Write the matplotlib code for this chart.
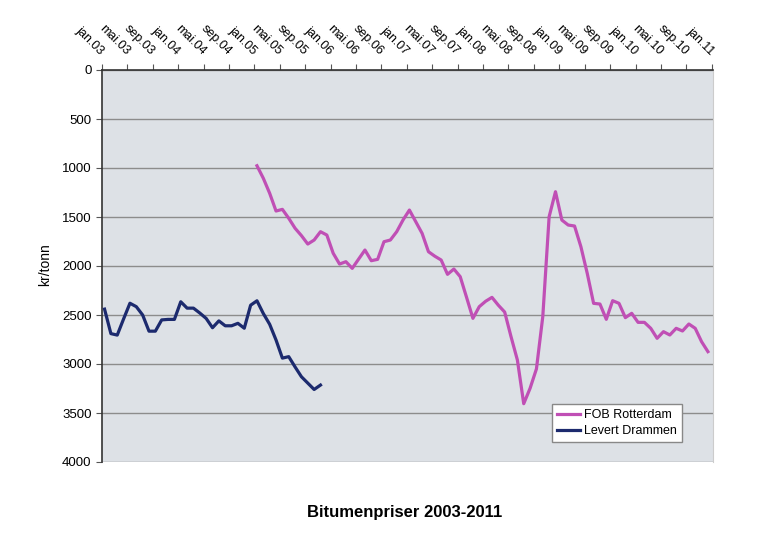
import matplotlib
matplotlib.use("Agg")
import matplotlib.pyplot as plt
import numpy as np

plt.rcParams['font.family'] = ['Liberation Sans', 'DejaVu Sans']

# Month index 0 = jan.03
tick_labels = ["jan.03", "mai.03", "sep.03", "jan.04", "mai.04", "sep.04",
               "jan.05", "mai.05", "sep.05", "jan.06", "mai.06", "sep.06",
               "jan.07", "mai.07", "sep.07", "jan.08", "mai.08", "sep.08",
               "jan.09", "mai.09", "sep.09", "jan.10", "mai.10", "sep.10",
               "jan.11"]

drammen_start = 0
drammen = [2440, 2690, 2705, 2540, 2380, 2415, 2500, 2665, 2665, 2550,
           2545, 2545, 2365, 2430, 2430, 2480, 2535, 2630, 2560, 2610,
           2610, 2585, 2635, 2400, 2355, 2485, 2595, 2755, 2940, 2925,
           3030, 3130, 3195, 3260, 3215]

rotterdam_start = 24
rotterdam = [977, 1105, 1258, 1439, 1422, 1513, 1615, 1690, 1776, 1735,
             1650, 1684, 1870, 1980, 1956, 2024, 1930, 1837, 1946, 1932,
             1752, 1735, 1650, 1530, 1429, 1548, 1667, 1854, 1900, 1939,
             2085, 2031, 2109, 2320, 2534, 2415, 2360, 2320, 2400, 2470,
             2721, 2959, 3405, 3248, 3050, 2517, 1497, 1242, 1531, 1582,
             1592, 1803, 2075, 2381, 2388, 2544, 2354, 2381, 2527, 2483,
             2575, 2575, 2636, 2738, 2670, 2704, 2636, 2663, 2592, 2636,
             2772, 2874]

fig = plt.figure(figsize=(7.78, 5.52), dpi=100)
ax = fig.add_axes([102/778, 1-462/552, 611/778, 392/552])
ax.set_facecolor('#dde1e6')

off = 0.4
xd = np.arange(len(drammen)) + drammen_start + off
xr = np.arange(len(rotterdam)) + rotterdam_start + off

ax.plot(xr, rotterdam, color='#c04fb5', lw=2.3, label='FOB Rotterdam', zorder=3)
ax.plot(xd, drammen, color='#1c2a6e', lw=2.3, label='Levert Drammen', zorder=3)

ax.set_xlim(0, 96.2)
ax.set_ylim(4000, 0)
ax.set_yticks(np.arange(0, 4001, 500))
ax.yaxis.grid(True, color='#8c8c8c', lw=1.0)
ax.set_axisbelow(True)

ax.xaxis.tick_top()
ax.set_xticks(np.arange(0, 97, 4))
ax.set_xticklabels(tick_labels, rotation=-45, rotation_mode='anchor',
                   ha='right', va='center', fontsize=9)
ax.tick_params(axis='x', direction='out', length=4, pad=8, color='#555555')
ax.tick_params(axis='y', direction='out', length=4, labelsize=9.5, color='#555555')

for s in ['left', 'top']:
    ax.spines[s].set_color('#333333')
    ax.spines[s].set_linewidth(1.2)
ax.spines['right'].set_color('#cccccc')
ax.spines['bottom'].set_visible(False)

fig.text(45/778, 1-265/552, 'kr/tonn', rotation=90, ha='center', va='center', fontsize=10)
fig.text(405/778, 1-512/552, 'Bitumenpriser 2003-2011', ha='center', va='center',
         fontsize=12, fontweight='bold')

leg = ax.legend(loc='lower left', bbox_to_anchor=(0.727, 0.035), fontsize=9,
                frameon=True, fancybox=False, handlelength=1.8, borderpad=0.4,
                labelspacing=0.3, handletextpad=0.3)
leg.get_frame().set_edgecolor('#888888')
leg.get_frame().set_facecolor('white')
leg.get_frame().set_alpha(1)

fig.savefig('out.png', dpi=100)
